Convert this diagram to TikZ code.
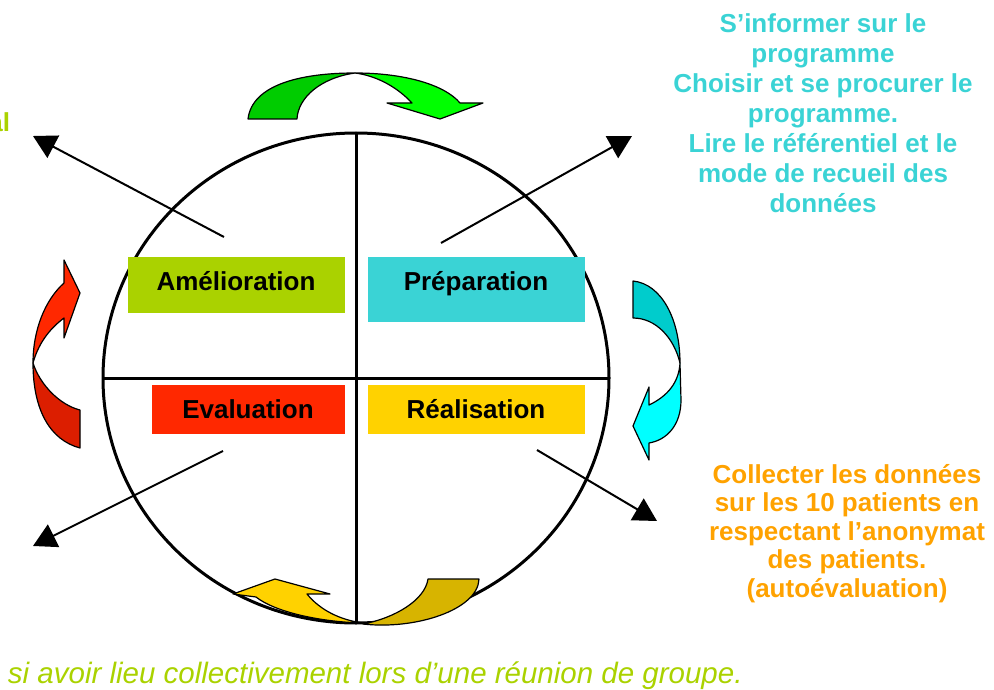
\documentclass[tikz,border=0pt]{standalone}
\usepackage{fontspec}
\setmainfont{Liberation Sans}
\usetikzlibrary{arrows.meta,shapes.geometric}

\definecolor{limec}{RGB}{170,210,0}
\definecolor{cyanc}{RGB}{58,211,213}
\definecolor{orangec}{RGB}{255,162,0}
\definecolor{redbox}{RGB}{255,40,0}
\definecolor{yellowbox}{RGB}{255,210,0}
\definecolor{greenA}{RGB}{0,204,0}
\definecolor{greenB}{RGB}{0,255,0}
\definecolor{cyanA}{RGB}{0,204,204}
\definecolor{cyanB}{RGB}{0,255,255}
\definecolor{redA}{RGB}{255,40,0}
\definecolor{redB}{RGB}{220,30,0}
\definecolor{yelA}{RGB}{255,210,0}
\definecolor{yelB}{RGB}{215,180,0}

\begin{document}
\begin{tikzpicture}[x=1pt,y=-1pt,
  every node/.style={inner sep=0pt, outer sep=0pt},
  quad/.style={rectangle, draw=none},
  boxlabel/.style={font=\fontsize{26}{31}\selectfont\bfseries, text=black, anchor=base},
  sidetext/.style={font=\bfseries, align=center, anchor=north},
  ray/.style={line width=2pt, -{Triangle[length=23pt,width=25pt]}},
  ring/.style={line width=3pt},
  band/.style={draw=black, line width=1.2pt, line join=round},
]
\useasboundingbox (0,0) rectangle (994,690);

% main cycle split in four quarters
\node[ellipse, draw, ring, minimum width=506pt, minimum height=490pt] (cycle) at (356,378) {};
\draw[ring] (cycle.west) -- (cycle.east);
\draw[ring] (cycle.north) -- (cycle.south);

% quarter labels
\node[quad, fill=limec, minimum width=217pt, minimum height=56pt] (ameBox) at (236.5,285) {};
\node[quad, fill=cyanc, minimum width=217pt, minimum height=65pt] (prepBox) at (476.5,289.5) {};
\node[quad, fill=redbox, minimum width=193pt, minimum height=49pt] (evalBox) at (248.5,409.5) {};
\node[quad, fill=yellowbox, minimum width=217pt, minimum height=49pt] (realBox) at (476.5,409.5) {};
\node[boxlabel] (ameText) at (236,290) {Amélioration};
\node[boxlabel] (prepText) at (476,290) {Préparation};
\node[boxlabel] (evalText) at (248,418) {Evaluation};
\node[boxlabel] (realText) at (476,418) {Réalisation};

% outgoing rays
\coordinate (r1s) at (224,237); \coordinate (r1e) at (33,136);
\coordinate (r2s) at (441,243); \coordinate (r2e) at (632,136);
\coordinate (r3s) at (223,451); \coordinate (r3e) at (33,546);
\coordinate (r4s) at (537,450); \coordinate (r4e) at (657,521);
\draw[ray] (r1s) -- (r1e);
\draw[ray] (r2s) -- (r2e);
\draw[ray] (r3s) -- (r3e);
\draw[ray] (r4s) -- (r4e);

% green turning arrow (top)
\filldraw[band, fill=greenA] (248,119) .. controls (252,85) and (300,73) .. (355,73)
  .. controls (320,78) and (298,98) .. (297,119) -- cycle;
\filldraw[band, fill=greenB] (355,73) .. controls (405,73) and (445,85) .. (460,103)
  -- (483,103) -- (440,119) -- (387,103) -- (412,103)
  .. controls (398,88) and (378,76) .. (355,73) -- cycle;

% cyan turning arrow (right)
\filldraw[band, fill=cyanA] (633,281) .. controls (662,284) and (680,320) .. (680,363)
  .. controls (674,338) and (656,318) .. (633,318) -- cycle;
\filldraw[band, fill=cyanB] (680,363) -- (681,400) .. controls (681,425) and (667,440) .. (649,443)
  -- (649,460) -- (633,426) -- (649,387) -- (649,405)
  .. controls (668,396) and (679,382) .. (680,363) -- cycle;

% yellow turning arrow (bottom)
\filldraw[band, fill=yelA] (233,594) -- (275,579) -- (330,594) -- (307,594)
  .. controls (320,610) and (340,620) .. (363,623)
  .. controls (320,622) and (275,612) .. (256,597) -- cycle;
\filldraw[band, fill=yelB] (428,579) -- (479,579) .. controls (478,610) and (415,630) .. (363,624)
  .. controls (395,618) and (425,600) .. (428,579) -- cycle;

% red turning arrow (left)
\filldraw[band, fill=redA] (33,363) .. controls (33,330) and (45,300) .. (64,283)
  -- (64,260) -- (80,293) -- (64,338) -- (64,318)
  .. controls (48,330) and (38,345) .. (33,363) -- cycle;
\filldraw[band, fill=redB] (33,363) .. controls (33,410) and (50,440) .. (80,448)
  -- (80,410) .. controls (60,405) and (40,385) .. (33,363) -- cycle;

% side texts
\node[sidetext, text=cyanc, font=\fontsize{26}{30}\selectfont\bfseries] (prepNote) at (823,14)
  {S’informer sur le\\programme\\Choisir et se procurer le\\programme.\\Lire le référentiel et le\\mode de recueil des\\données};
\node[sidetext, text=orangec, font=\fontsize{26}{28.5}\selectfont\bfseries] (realNote) at (847,464)
  {Collecter les données\\sur les 10 patients en\\respectant l’anonymat\\des patients.\\(autoévaluation)};
\node[anchor=base east, text=limec, font=\fontsize{26}{30}\selectfont\bfseries] (ameNote) at (10,132) {al};
\node[anchor=base west, text=limec, font=\fontsize{29.5}{34}\selectfont\itshape] (groupNote) at (8,683)
  {si avoir lieu collectivement lors d’une réunion de groupe.};
\end{tikzpicture}
\end{document}
